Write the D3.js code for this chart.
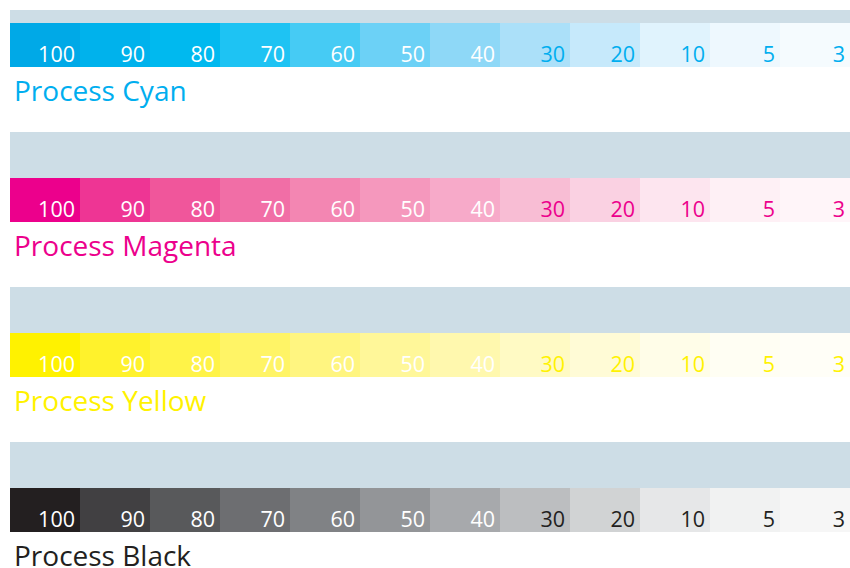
<!DOCTYPE html>
<html>
<head>
<meta charset="utf-8">
<script src="https://cdn.jsdelivr.net/npm/d3@7"></script>
<style>
  body { margin: 0; background: #fff; }
  svg { display: block; }
</style>
</head>
<body>
<script>
// ink names and tint steps
var inks = ["Process Cyan", "Process Magenta", "Process Yellow", "Process Black"]
var tints = [100, 90, 80, 70, 60, 50, 40, 30, 20, 10, 5, 3]

// swatch colours per ink, same order as tints
var cyanSwatches = ["#00a9e7", "#00b2ec", "#00b9ef", "#1ec3f3", "#46cbf4", "#6cd1f6", "#8ed8f7", "#abe0f9", "#c6e9fb", "#e0f3fd", "#eef8fe", "#f5fbfe"]
var magentaSwatches = ["#ec008c", "#ee3594", "#f0569b", "#f16ea6", "#f386b2", "#f598bd", "#f7aac9", "#f8bdd4", "#fad1e2", "#fde5ef", "#fef0f5", "#fff5f9"]
var yellowSwatches = ["#fff200", "#fff22c", "#fff348", "#fff466", "#fff580", "#fff799", "#fff8ae", "#fffac4", "#fffbd6", "#fffde8", "#fffef3", "#fffef7"]
var blackSwatches = ["#231f20", "#414042", "#58595b", "#6d6e71", "#808285", "#939598", "#a7a9ac", "#bcbec0", "#d1d3d4", "#e6e7e8", "#f1f2f2", "#f6f6f6"]
var inkText = ["#00aeef", "#ec008c", "#fff200", "#231f20"]

function main() {
  var swatches = [cyanSwatches, magentaSwatches, yellowSwatches, blackSwatches]

  var svg = d3.select("body").append("svg").attr("width", 850).attr("height", 568)

  var x = d3.scaleBand().domain(tints).range([10, 850])
  var rowTop = d3.scaleBand().domain(inks).range([23, 643]) // step 155

  // the top band is cropped at y=10
  svg.append("clipPath").attr("id", "clip")
    .append("rect").attr("x", 0).attr("y", 10).attr("width", 850).attr("height", 558)

  var chart = svg.append("g").attr("clip-path", "url(#clip)")

  var rows = chart.selectAll("g.row")
    .data(inks)
    .enter()
    .append("g")
    .attr("class", "row")
    .attr("transform", function(d) { return "translate(0," + rowTop(d) + ")" })

  // grey band above each strip
  rows.append("rect")
    .attr("x", 10)
    .attr("y", -46)
    .attr("width", 840)
    .attr("height", 46)
    .attr("fill", "#cddde6")

  rows.each(function(ink, i) {
    var g = d3.select(this)
    var cells = tints.map(function(t, j) { return {tint: t, color: swatches[i][j]} })

    g.selectAll("rect.cell")
      .data(cells)
      .enter()
      .append("rect")
      .attr("class", "cell")
      .attr("x", function(d) { return x(d.tint) })
      .attr("y", 0)
      .attr("width", x.bandwidth() + 0.5)
      .attr("height", 44)
      .attr("fill", function(d) { return d.color })

    g.selectAll("text.tint")
      .data(cells)
      .enter()
      .append("text")
      .attr("class", "tint")
      .attr("x", function(d) { return x(d.tint) + x.bandwidth() - 5 })
      .attr("y", 39)
      .attr("text-anchor", "end")
      .attr("font-family", "Open Sans")
      .attr("font-size", 21.5)
      .attr("fill", function(d) { return d.tint >= 40 ? "#ffffff" : inkText[i] })
      .text(function(d) { return d.tint })

    g.append("text")
      .attr("x", 14)
      .attr("y", 78)
      .attr("font-family", "Open Sans")
      .attr("font-size", 28)
      .attr("fill", inkText[i])
      .text(ink)
  })
}

main()
</script>
</body>
</html>
